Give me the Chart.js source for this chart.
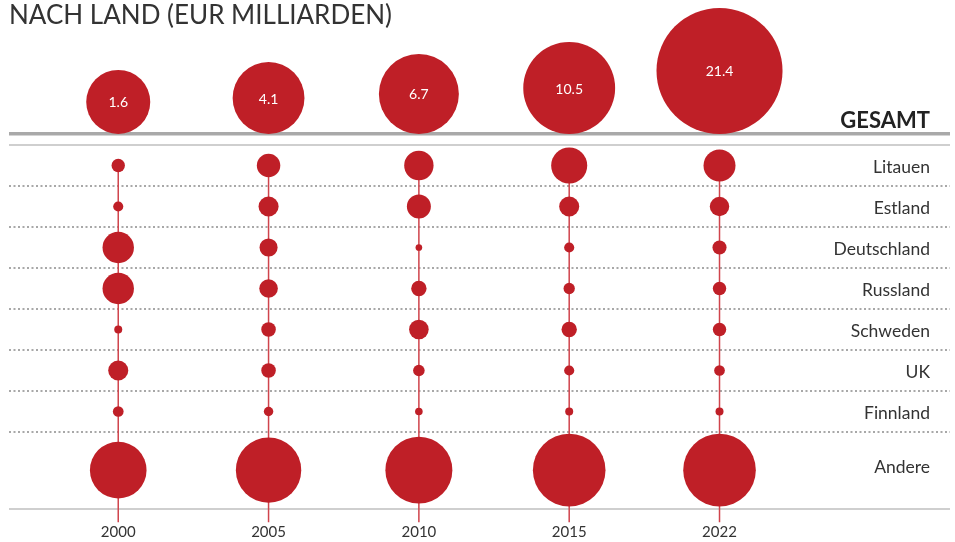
<!DOCTYPE html>
<html>
<head>
<meta charset="utf-8">
<script src="https://cdn.jsdelivr.net/npm/chart.js@4.4.1/dist/chart.umd.min.js"></script>
<style>
    html, body { margin: 0; padding: 0; background: #fff; }
    #wrap { width: 955px; height: 542px; position: relative; }
</style>
</head>
<body>
<div id="wrap"><canvas id="myChart"></canvas></div>
<script>
// data read off the picture (country values are estimated from bubble size)
const years = ['2000', '2005', '2010', '2015', '2022'];
const totals = [1.6, 4.1, 6.7, 10.5, 21.4];
const countries = ['Litauen', 'Estland', 'Deutschland', 'Russland', 'Schweden', 'UK', 'Finnland', 'Andere'];
const litauen = [2.8, 8.6, 13.5, 20.3, 16.0];
const estland = [1.6, 6.3, 9.0, 6.3, 5.9];
const deutschland = [15.4, 5.1, 0.7, 1.6, 3.1];
const russland = [15.4, 5.4, 3.7, 2.0, 2.8];
const schweden = [1.0, 3.3, 6.0, 3.7, 2.8];
const uk = [6.3, 3.3, 2.1, 1.6, 1.8];
const finnland = [1.8, 1.4, 0.9, 1.0, 1.0];
const andere = [50.1, 66.8, 70.1, 82.4, 82.4];
const countryValues = [litauen, estland, deutschland, russland, schweden, uk, finnland, andere];

const red = '#bf1f27';
const stemColor = '#d0444c';
const textColor = '#333333';

// row layout in y units (one unit = one country row)
const rowCenter = i => i < 7 ? i + 0.5 : 7.93;
const gesamtBase = -0.27;
const bottomLine = 8.88;
const stemEnd = 9.2;

const countryRadius = v => 4 * Math.sqrt(v);
const totalRadius = v => 29.5 + 1.566 * v;

const bubbleData = [];
countryValues.forEach((vals, r) => {
    vals.forEach((v, i) => {
        bubbleData.push({ x: i, y: rowCenter(r), r: countryRadius(v) });
    });
});
const totalData = totals.map((v, i) => ({ x: i, y: gesamtBase, r: totalRadius(v) }));

const stems = years.map((y, i) => ({
    type: 'line',
    data: [{ x: i, y: rowCenter(0) }, { x: i, y: stemEnd }],
    borderColor: stemColor,
    borderWidth: 1.5,
    pointRadius: 0,
    clip: false,
    order: 3
}));

const labelsPlugin = {
    id: 'labels',
    afterDatasetsUpdate(chart) {
        // sit the total bubbles on the thick line
        const yScale = chart.scales.y;
        const base = yScale.getPixelForValue(gesamtBase);
        const meta = chart.getDatasetMeta(chart.data.datasets.length - 1);
        meta.data.forEach(el => {
            el.y = base - el.options.radius;
        });
    },
    afterDatasetsDraw(chart) {
        const ctx = chart.ctx;
        const yScale = chart.scales.y;
        const meta = chart.getDatasetMeta(chart.data.datasets.length - 1);
        ctx.save();
        ctx.fillStyle = '#ffffff';
        ctx.font = '14px Lato';
        ctx.textAlign = 'center';
        ctx.textBaseline = 'middle';
        meta.data.forEach((el, i) => {
            ctx.fillText(totals[i].toFixed(1), el.x, el.y + 1);
        });

        ctx.fillStyle = textColor;
        ctx.textAlign = 'right';
        ctx.font = '17.5px Lato';
        countries.forEach((c, r) => {
            const off = r < 7 ? 2 : -3;
            ctx.fillText(c, 930, yScale.getPixelForValue(rowCenter(r)) + off);
        });
        ctx.fillStyle = '#222222';
        ctx.font = 'bold 22px Lato';
        ctx.fillText('GESAMT', 930, yScale.getPixelForValue(gesamtBase) - 13);
        ctx.restore();
    }
};

const gridVals = [gesamtBase, 0, 1, 2, 3, 4, 5, 6, 7, bottomLine];

const ctx = document.getElementById('myChart').getContext('2d');
const chart = new Chart(ctx, {
    type: 'bubble',
    data: {
        datasets: [
            ...stems,
            {
                data: bubbleData,
                backgroundColor: red,
                borderWidth: 0,
                clip: false,
                order: 1
            },
            {
                data: totalData,
                backgroundColor: red,
                borderWidth: 0,
                clip: false,
                order: 1
            }
        ]
    },
    options: {
        responsive: true,
        maintainAspectRatio: false,
        animation: false,
        events: [],
        layout: {
            autoPadding: false,
            padding: { left: 9, right: 5, top: 0, bottom: 0 }
        },
        plugins: {
            legend: { display: false },
            tooltip: { enabled: false },
            title: {
                display: true,
                text: 'NACH LAND (EUR MILLIARDEN)',
                align: 'start',
                color: textColor,
                font: { family: 'Lato', size: 26, weight: 'normal', lineHeight: 1.2 },
                padding: { top: 0, bottom: 0 }
            }
        },
        scales: {
            x: {
                type: 'linear',
                min: -0.7267,
                max: 5.5333,
                afterBuildTicks: s => { s.ticks = years.map((y, i) => ({ value: i })); },
                afterFit: s => { s.height = 20; },
                grid: { display: false, drawTicks: false },
                border: { display: false },
                ticks: {
                    callback: v => years[v],
                    color: textColor,
                    font: { family: 'Lato', size: 15 },
                    padding: 1,
                    maxRotation: 0,
                    autoSkip: false
                }
            },
            y: {
                type: 'linear',
                reverse: true,
                min: (31.2 - 145) / 41,
                max: (522 - 145) / 41,
                afterBuildTicks: s => { s.ticks = gridVals.map(v => ({ value: v })); },
                afterFit: s => { s.width = 0; },
                ticks: { display: false },
                border: {
                    display: false,
                    dash: c => (c.tick && c.tick.value >= 1 && c.tick.value <= 7) ? [2, 2.5] : []
                },
                grid: {
                    drawTicks: false,
                    color: c => {
                        const v = c.tick.value;
                        if (v === gesamtBase) return '#a9a9a9';
                        if (v >= 1 && v <= 7) return '#a8a8a8';
                        return '#cfcfcf';
                    },
                    lineWidth: c => {
                        const v = c.tick.value;
                        if (v === gesamtBase) return 3.5;
                        return 2;
                    }
                }
            }
        }
    },
    plugins: [labelsPlugin]
});
</script>
</body>
</html>
